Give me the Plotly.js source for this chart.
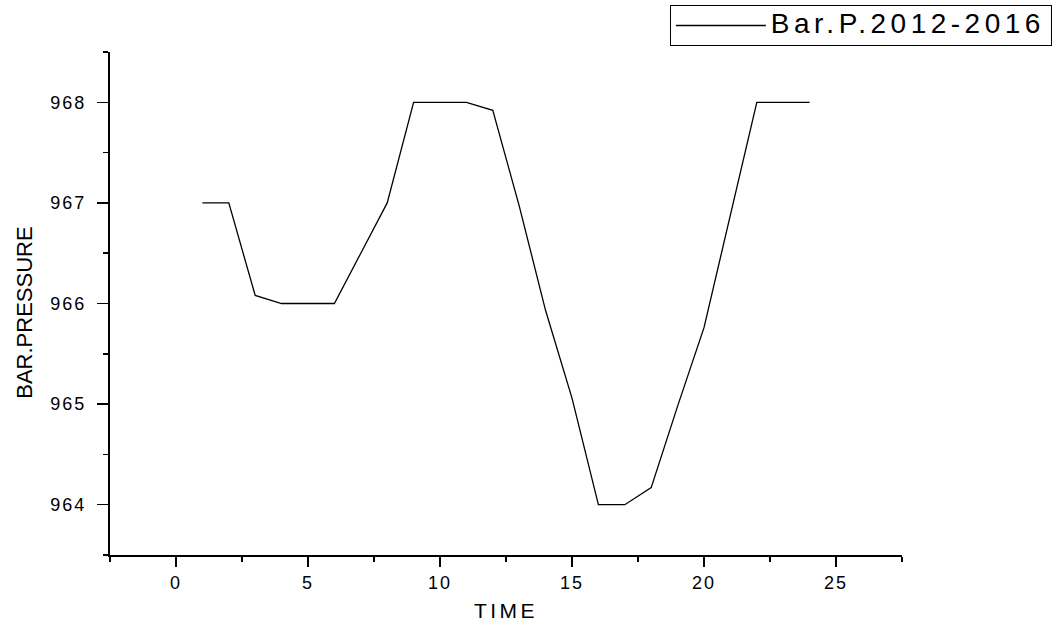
<!DOCTYPE html>
<html>
<head>
<meta charset="utf-8">
<script src="https://cdn.plot.ly/plotly-3.0.1.min.js"></script>
<style>
  html, body { margin: 0; padding: 0; background: #fff; }
  #chart { width: 1055px; height: 624px; }
  .xtick text, .ytick text { letter-spacing: 2px; }
  .legendtext { letter-spacing: 4.5px; font-size: 28px !important; }
  .g-xtitle text { letter-spacing: 3.5px; }
</style>
</head>
<body>
<div id="chart"></div>
<script>
const time = [1, 2, 3, 4, 5, 6, 7, 8, 9, 10, 11, 12, 13, 14, 15, 16, 17, 18, 19, 20, 21, 22, 23, 24];
const pressure = [967.0, 967.0, 966.08, 966.0, 966.0, 966.0, 966.5, 967.0, 968.0, 968.0, 968.0, 967.92,
                  966.97, 965.93, 965.06, 964.0, 964.0, 964.17, 964.98, 965.76, 966.88, 968.0, 968.0, 968.0];
const seriesName = 'Bar.P.2012-2016';
const xTitle = 'TIME';
const yTitle = 'BAR.PRESSURE';
const xTickVals = [0, 5, 10, 15, 20, 25];
const yTickVals = [964, 965, 966, 967, 968];

const font = 'Liberation Sans, Arial, sans-serif';

const trace = {
  x: time,
  y: pressure,
  type: 'scatter',
  mode: 'lines',
  name: seriesName,
  line: { color: '#000', width: 1.3 }
};

const layout = {
  width: 1055,
  height: 624,
  margin: { l: 110, r: 153, t: 52, b: 69, autoexpand: false },
  paper_bgcolor: '#fff',
  plot_bgcolor: '#fff',
  font: { family: font, color: '#000' },
  showlegend: true,
  legend: {
    xref: 'container', yref: 'container',
    x: 0.997, xanchor: 'right',
    y: 0.992, yanchor: 'top',
    bordercolor: '#000', borderwidth: 1,
    bgcolor: '#fff',
    font: { size: 20, family: font, color: '#000' },
    itemwidth: 90
  },
  xaxis: {
    range: [-2.5, 27.5],
    tickvals: xTickVals,
    ticktext: xTickVals.map(String),
    ticks: 'outside', ticklen: 10, tickwidth: 1.5, tickcolor: '#000',
    minor: { dtick: 2.5, tick0: 0, ticks: 'outside', ticklen: 5, tickwidth: 1.5, tickcolor: '#000' },
    showline: true, linecolor: '#000', linewidth: 2,
    showgrid: false, zeroline: false, automargin: false,
    tickfont: { size: 18, family: font, color: '#000' },
    title: { text: xTitle, font: { size: 21, family: font, color: '#000' }, standoff: 12 }
  },
  yaxis: {
    range: [963.5, 968.5],
    tickvals: yTickVals,
    ticktext: yTickVals.map(String),
    ticks: 'outside', ticklen: 11, tickwidth: 1.5, tickcolor: '#000',
    minor: { dtick: 0.5, tick0: 964, ticks: 'outside', ticklen: 5, tickwidth: 1.5, tickcolor: '#000' },
    showline: true, linecolor: '#000', linewidth: 2,
    showgrid: false, zeroline: false, automargin: false,
    ticklabelstandoff: 7,
    tickfont: { size: 18, family: font, color: '#000' }
  },
  annotations: [{
    text: yTitle,
    xref: 'paper', yref: 'paper',
    x: -0.109, y: 0.481,
    xanchor: 'center', yanchor: 'middle',
    textangle: -90,
    showarrow: false,
    font: { size: 22, family: font, color: '#000' }
  }]
};

Plotly.newPlot('chart', [trace], layout, { displayModeBar: false, staticPlot: true });
</script>
</body>
</html>
